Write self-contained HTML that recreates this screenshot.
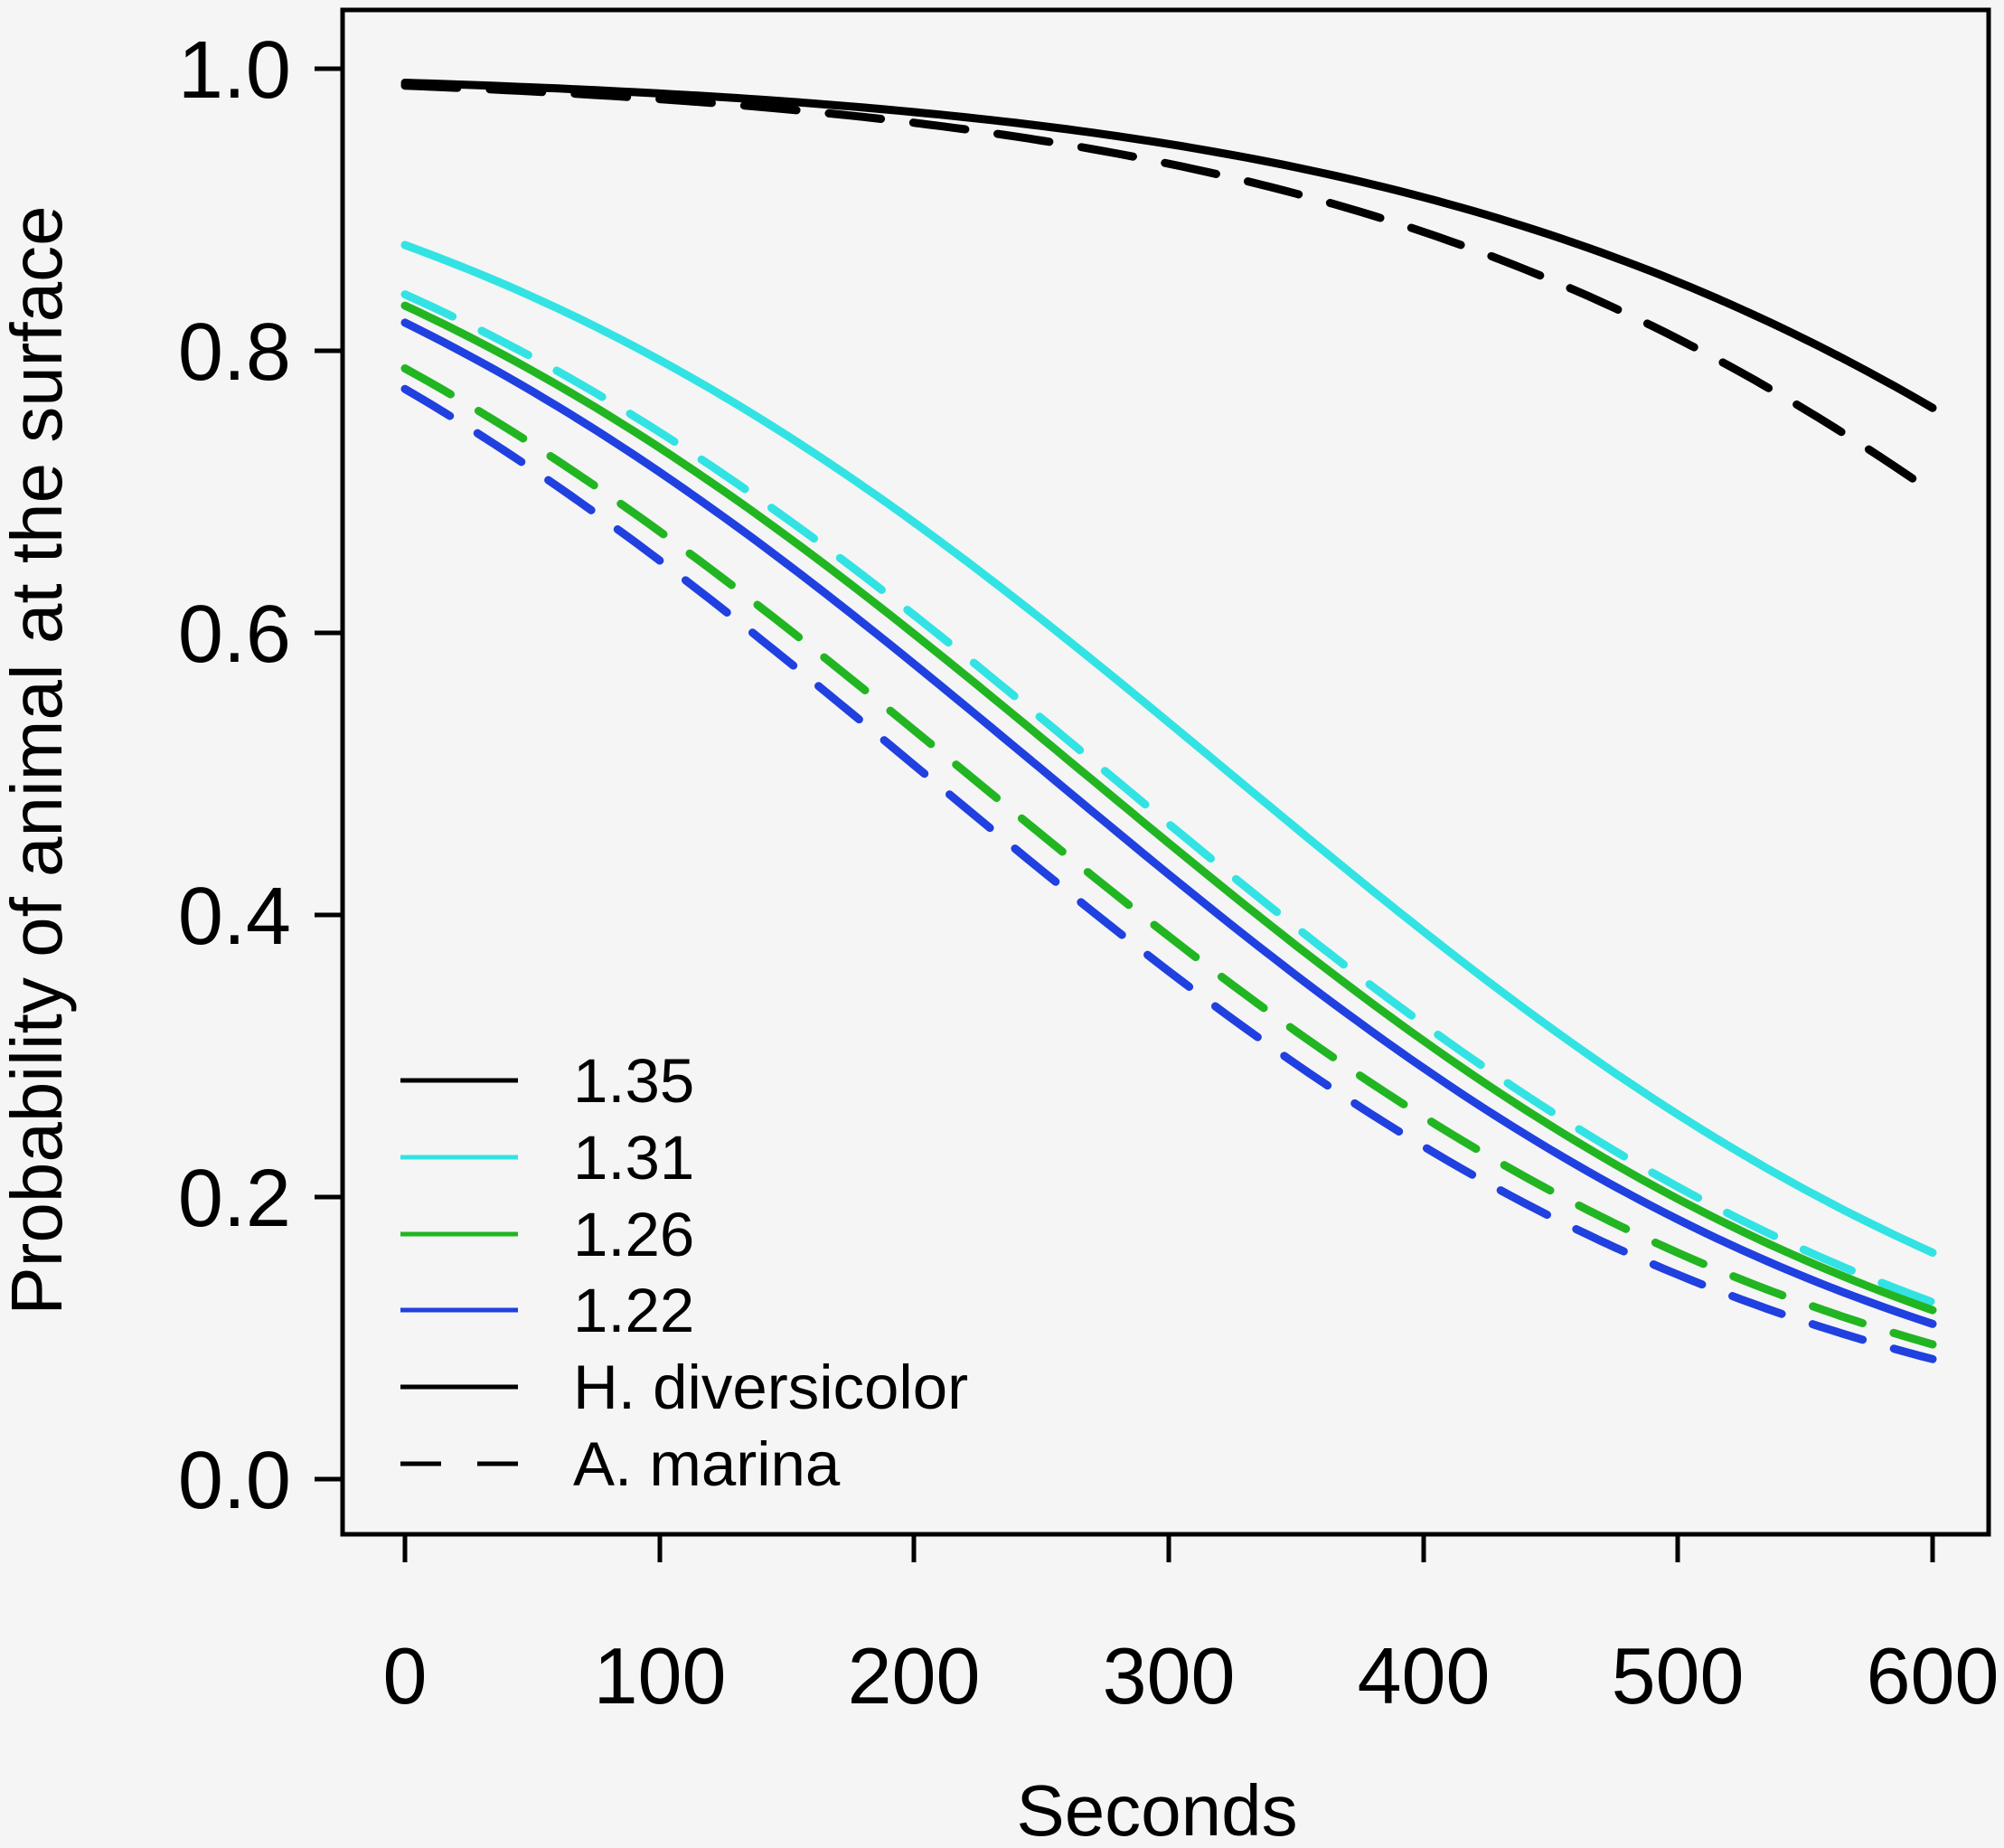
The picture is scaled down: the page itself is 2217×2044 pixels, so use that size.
<!DOCTYPE html>
<html><head><meta charset="utf-8"><style>
html,body{margin:0;padding:0;background:#f5f5f5;}
svg{display:block;font-family:"Liberation Sans",sans-serif;}
</style></head><body>
<svg id="s" width="2217" height="2044" viewBox="0 0 2217 2044" xmlns="http://www.w3.org/2000/svg">
<rect width="2217" height="2044" fill="#f5f5f5"/>
<g id="curves" fill="none" stroke-width="9" stroke-linecap="round"></g>
<rect x="379" y="11" width="1821" height="1686" fill="none" stroke="#000" stroke-width="5"/>
<g stroke="#000" stroke-width="5">
<line x1="348" y1="76" x2="379" y2="76"/><line x1="348" y1="388" x2="379" y2="388"/>
<line x1="348" y1="700" x2="379" y2="700"/><line x1="348" y1="1012" x2="379" y2="1012"/>
<line x1="348" y1="1324" x2="379" y2="1324"/><line x1="348" y1="1636" x2="379" y2="1636"/>
<line x1="448" y1="1697" x2="448" y2="1728"/><line x1="730" y1="1697" x2="730" y2="1728"/>
<line x1="1011" y1="1697" x2="1011" y2="1728"/><line x1="1293" y1="1697" x2="1293" y2="1728"/>
<line x1="1575" y1="1697" x2="1575" y2="1728"/><line x1="1856" y1="1697" x2="1856" y2="1728"/>
<line x1="2138" y1="1697" x2="2138" y2="1728"/>
</g>
<g font-size="90" text-anchor="end" fill="#000">
<text x="322" y="108">1.0</text><text x="322" y="420">0.8</text><text x="322" y="732">0.6</text>
<text x="322" y="1044">0.4</text><text x="322" y="1356">0.2</text><text x="322" y="1668">0.0</text>
</g>
<g font-size="88" text-anchor="middle" fill="#000">
<text x="448" y="1884">0</text><text x="730" y="1884">100</text><text x="1011" y="1884">200</text>
<text x="1293" y="1884">300</text><text x="1575" y="1884">400</text><text x="1856" y="1884">500</text>
<text x="2138" y="1884">600</text>
<text x="1280" y="2030" font-size="80">Seconds</text>
<text transform="translate(68,841) rotate(-90)" font-size="80">Probability of animal at the surface</text>
</g>
<g stroke-width="5">
<line x1="443" y1="1195" x2="573" y2="1195" stroke="#000"/>
<line x1="443" y1="1280" x2="573" y2="1280" stroke="#33e3e3"/>
<line x1="443" y1="1365" x2="573" y2="1365" stroke="#22b522"/>
<line x1="443" y1="1449" x2="573" y2="1449" stroke="#2040e0"/>
<line x1="443" y1="1534" x2="573" y2="1534" stroke="#000"/>
<line x1="443" y1="1619" x2="573" y2="1619" stroke="#000" stroke-dasharray="45 40"/>
</g>
<g font-size="69" fill="#000">
<text x="634" y="1219">1.35</text><text x="634" y="1304">1.31</text><text x="634" y="1389">1.26</text>
<text x="634" y="1473">1.22</text><text x="634" y="1558">H. diversicolor</text><text x="634" y="1643">A. marina</text>
</g>
</svg>
<script>
var series=[
["#000",4.6,-0.00575,0],["#000",4.41,-0.00594,1],
["#33e3e3",1.946,-0.0060,0],["#33e3e3",1.658,-0.0060,1],
["#22b522",1.60,-0.00599,0],["#22b522",1.31,-0.00593,1],
["#2040e0",1.516,-0.00601,0],["#2040e0",1.225,-0.0060,1]];
var g=document.getElementById("curves"),ns="http://www.w3.org/2000/svg";
series.forEach(function(s){
 var d="";for(var x=0;x<=600;x+=5){var p=1/(1+Math.exp(-(s[1]+s[2]*x)));
 d+=(x?"L":"M")+(448+x*2.8167).toFixed(1)+" "+(1636-p*1560).toFixed(1);}
 var e=document.createElementNS(ns,"path");e.setAttribute("d",d);e.setAttribute("stroke",s[0]);
 if(s[3])e.setAttribute("stroke-dasharray","58 36");g.appendChild(e);});
</script>
</body></html>
